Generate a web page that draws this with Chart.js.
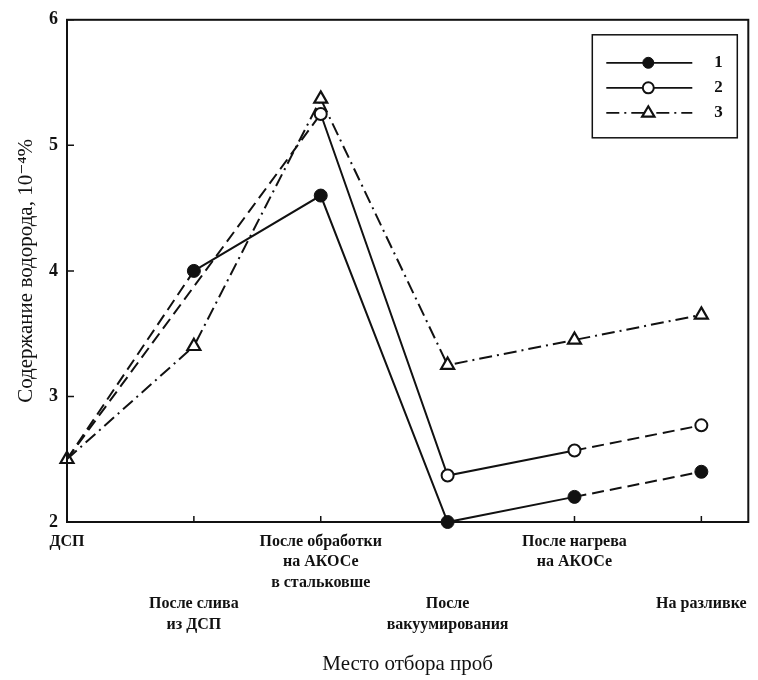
<!DOCTYPE html>
<html>
<head>
<meta charset="utf-8">
<script src="https://cdn.jsdelivr.net/npm/chart.js@4/dist/chart.umd.min.js"></script>
<style>
  html, body { margin: 0; padding: 0; background: #fff; }
  #wrap { width: 758px; height: 680px; }
</style>
</head>
<body>
<div id="wrap"><canvas id="chart"></canvas></div>
<script>
// Место отбора проб
const categories = [
  ["ДСП"],
  ["После слива", "из ДСП"],
  ["После обработки", "на АКОСе", "в стальковше"],
  ["После", "вакуумирования"],
  ["После нагрева", "на АКОСе"],
  ["На разливке"],
];
const series_names = ["1", "2", "3"];
const series_1 = [2.5, 4.0, 4.6, 2.0, 2.2, 2.4];
const series_2 = [2.5, null, 5.25, 2.37, 2.57, 2.77];
const series_3 = [2.5, 3.4, 5.37, 3.25, 3.45, 3.65];
const y_ticks = [2, 3, 4, 5, 6];

const serif = "'Liberation Serif', 'DejaVu Serif', serif";
const ink = "#111";
const DASH = [12, 6];
const DASH_DOT = [13, 5, 2, 5];
const SOLID = [];

// dash pattern per segment, keyed by the index of the segment's start point
function segment_dash(patterns) {
  return { borderDash: (ctx) => patterns[ctx.p0DataIndex] };
}

const frame_plugin = {
  id: "frame",
  afterDatasetsDraw(chart) {
    const { ctx, chartArea: a, scales } = chart;
    ctx.save();
    ctx.strokeStyle = ink;
    ctx.lineWidth = 2;
    ctx.setLineDash([]);
    ctx.strokeRect(a.left, a.top, a.right - a.left, a.bottom - a.top);

    // inward ticks
    ctx.lineWidth = 1.5;
    ctx.beginPath();
    scales.x.ticks.forEach((t) => {
      const x = scales.x.getPixelForValue(t.value);
      ctx.moveTo(x, a.bottom);
      ctx.lineTo(x, a.bottom - 6);
    });
    scales.y.ticks.forEach((t) => {
      const y = scales.y.getPixelForValue(t.value);
      ctx.moveTo(a.left, y);
      ctx.lineTo(a.left + 7, y);
    });
    ctx.stroke();

    // legend box
    const bx = a.right - 156, by = a.top + 15, bw = 145, bh = 103;
    ctx.lineWidth = 1.5;
    ctx.strokeRect(bx, by, bw, bh);
    chart.data.datasets.forEach((ds, i) => {
      const y = by + 28 + i * 25;
      ctx.strokeStyle = ink;
      ctx.lineWidth = 1.8;
      ctx.setLineDash(ds.legendDash);
      ctx.beginPath();
      ctx.moveTo(bx + 14, y);
      ctx.lineTo(bx + 100, y);
      ctx.stroke();
      ctx.setLineDash([]);
      const cx = bx + 56;
      ctx.fillStyle = ds.pointBackgroundColor;
      ctx.lineWidth = ds.pointBorderWidth;
      ctx.beginPath();
      if (ds.pointStyle === "triangle") {
        const r = 6.5;
        ctx.moveTo(cx, y - r);
        ctx.lineTo(cx + r * 0.95, y + r * 0.6);
        ctx.lineTo(cx - r * 0.95, y + r * 0.6);
        ctx.closePath();
      } else {
        ctx.arc(cx, y, 5.5, 0, Math.PI * 2);
      }
      ctx.fill();
      ctx.stroke();
      ctx.fillStyle = ink;
      ctx.font = "bold 17px " + serif;
      ctx.textAlign = "left";
      ctx.textBaseline = "middle";
      ctx.fillText(ds.label, bx + 122, y);
    });
    ctx.restore();
  },
};

const common = {
  borderColor: ink,
  borderWidth: 2,
  pointBorderColor: ink,
  tension: 0,
  spanGaps: true,
  clip: false,
};

new Chart(document.getElementById("chart"), {
  type: "line",
  data: {
    datasets: [
      {
        ...common,
        label: series_names[0],
        data: series_1.map((y, x) => ({ x, y })),
        pointStyle: "circle",
        pointRadius: [0, 6.5, 6.5, 6.5, 6.5, 6.5],
        pointBackgroundColor: ink,
        pointBorderWidth: 1,
        segment: segment_dash([DASH, SOLID, SOLID, SOLID, DASH]),
        legendDash: SOLID,
      },
      {
        ...common,
        label: series_names[1],
        data: series_2.map((y, x) => ({ x, y })),
        pointStyle: "circle",
        pointRadius: [0, 0, 6, 6, 6, 6],
        pointBackgroundColor: "#fff",
        pointBorderWidth: 2,
        segment: segment_dash([DASH, DASH, SOLID, SOLID, DASH]),
        legendDash: SOLID,
      },
      {
        ...common,
        label: series_names[2],
        data: series_3.map((y, x) => ({ x, y })),
        pointStyle: "triangle",
        pointRadius: 7.5,
        pointBackgroundColor: "#fff",
        pointBorderWidth: 2.2,
        segment: segment_dash([DASH_DOT, DASH_DOT, DASH_DOT, DASH_DOT, DASH_DOT]),
        legendDash: DASH_DOT,
      },
    ],
  },
  options: {
    responsive: true,
    maintainAspectRatio: false,
    animation: false,
    layout: { padding: { top: 19, right: 2, bottom: 0, left: 0 } },
    plugins: {
      legend: { display: false },
      tooltip: { enabled: false },
    },
    scales: {
      x: {
        type: "linear",
        min: 0,
        max: 5.37,
        grid: { display: false, drawTicks: false },
        border: { display: false },
        afterBuildTicks: (scale) => {
          scale.ticks = categories.map((_, i) => ({ value: i }));
        },
        afterFit: (scale) => { scale.height = 158; },
        ticks: {
          autoSkip: false,
          maxRotation: 0,
          padding: 9,
          color: ink,
          font: { family: serif, size: 16, weight: "bold", lineHeight: 1.3 },
          callback: (value) => {
            const lines = categories[value] || "";
            return value % 2 === 1 ? ["", "", ""].concat(lines) : lines;
          },
        },
        title: {
          display: true,
          text: "Место отбора проб",
          color: ink,
          padding: { top: 0, bottom: 3 },
          font: { family: serif, size: 21, weight: "normal", lineHeight: 1.2 },
        },
      },
      y: {
        min: 2,
        max: 6,
        grid: { display: false, drawTicks: false },
        border: { display: false },
        afterBuildTicks: (scale) => {
          scale.ticks = y_ticks.map((v) => ({ value: v }));
        },
        afterFit: (scale) => { scale.width = 67; },
        ticks: {
          padding: 9,
          color: ink,
          font: { family: serif, size: 18, weight: "bold" },
        },
        title: {
          display: true,
          text: "Содержание водорода, 10⁻⁴%",
          color: ink,
          padding: { top: 14, bottom: 0 },
          font: { family: serif, size: 21, weight: "normal", lineHeight: 1.2 },
        },
      },
    },
  },
  plugins: [frame_plugin],
});
</script>
</body>
</html>
